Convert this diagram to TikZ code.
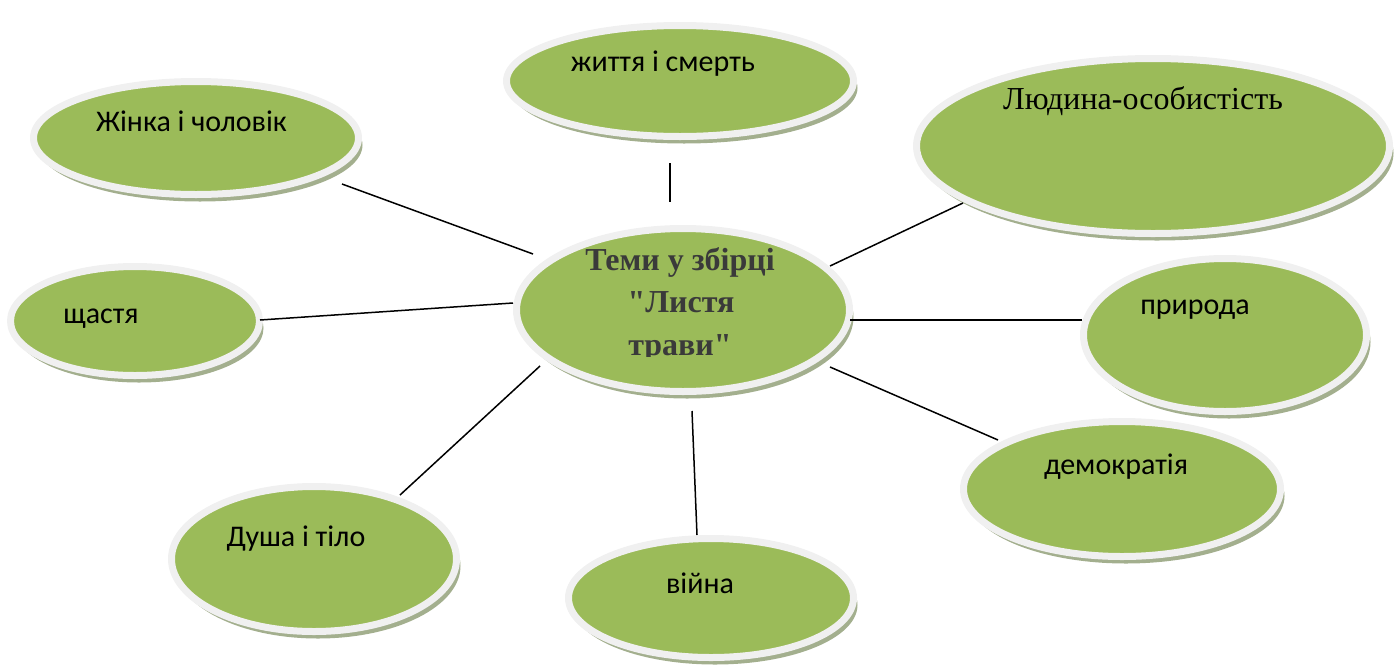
\documentclass[tikz,border=0pt]{standalone}
\usepackage{fontspec}
\setmainfont{Liberation Serif}
\newfontfamily\titlefont[Ligatures=TeXOff]{Liberation Serif}
\newfontfamily\calib{Carlito}
\usetikzlibrary{shapes.geometric,shadows,calc}
\definecolor{leaf}{HTML}{9BBB59}
\definecolor{ring}{HTML}{F0F0F0}
\definecolor{shade}{HTML}{A3AF8E}
\definecolor{titlegray}{HTML}{3A3A3A}
\begin{document}
\begin{tikzpicture}[x=1pt,y=-1pt,
  bubble/.style={ellipse, fill=leaf, draw=ring, line width=7pt, inner sep=0pt,
    drop shadow={shadow xshift=4pt, shadow yshift=-7pt, fill=shade, opacity=1}},
  sanslabel/.style={font=\calib\fontsize{30}{34}\selectfont, anchor=base, inner sep=0pt},
  seriflabel/.style={font=\fontsize{32}{36}\selectfont, anchor=base, inner sep=0pt},
  titlelabel/.style={font=\titlefont\bfseries\fontsize{32}{36}\selectfont, text=titlegray, anchor=base, inner sep=0pt},
  link/.style={line width=1.5pt, black}]
\useasboundingbox (0,0) rectangle (1394,667);

% bubbles (outer ring size minus ring width)
\node[bubble, minimum width=333pt, minimum height=163pt] (c) at (683,310) {};
\node[bubble, minimum width=325pt, minimum height=113pt] (w) at (196,138) {};
\node[bubble, minimum width=347pt, minimum height=111pt] (z) at (680,81) {};
\node[bubble, minimum width=473pt, minimum height=175pt] (l) at (1153,146) {};
\node[bubble, minimum width=249pt, minimum height=109pt] (s) at (135,321) {};
\node[bubble, minimum width=283pt, minimum height=153pt] (p) at (1225,335) {};
\node[bubble, minimum width=317pt, minimum height=135pt] (d) at (1122,489) {};
\node[bubble, minimum width=285pt, minimum height=145pt] (u) at (314,559) {};
\node[bubble, minimum width=285pt, minimum height=119pt] (v) at (711,598) {};

% connectors
\draw[link] ($(w)+(146,46)$) -- ($(c)+(-150,-56)$);
\draw[link] ($(z)+(-10,82)$) -- ($(c)+(-13,-108)$);
\draw[link] ($(l)+(-190,57)$) -- ($(c)+(147,-44)$);
\draw[link] ($(s)+(125,-1)$) -- ($(c)+(-170,-7)$);
\draw[link] ($(p)+(-143,-15)$) -- ($(c)+(167,10)$);
\draw[link] ($(d)+(-124,-49)$) -- ($(c)+(147,57)$);
\draw[link] ($(u)+(86,-64)$) -- ($(c)+(-143,56)$);
\draw[link] ($(v)+(-14,-63)$) -- ($(c)+(9,101)$);

% labels
\begin{scope}
  \clip (500,200) rectangle (870,356);
  \node[titlelabel] (t1) at (680,270) {Теми у збірці};
  \node[titlelabel] (t2) at (681,312) {"Листя};
  \node[titlelabel] (t3) at (680,355) {трави"};
\end{scope}
\node[sanslabel] (wt) at (191.5,131) {Жінка і чоловік};
\node[sanslabel] (zt) at (663,71) {життя і смерть};
\node[seriflabel] (lt) at (1143,109) {Людина-особистість};
\node[sanslabel] (st) at (101,323) {щастя};
\node[sanslabel] (pt) at (1195,314) {природа};
\node[sanslabel] (dt) at (1116,474) {демократія};
\node[sanslabel] (ut) at (296,546) {Душа і тіло};
\node[sanslabel] (vt) at (700,593) {війна};
\end{tikzpicture}
\end{document}
